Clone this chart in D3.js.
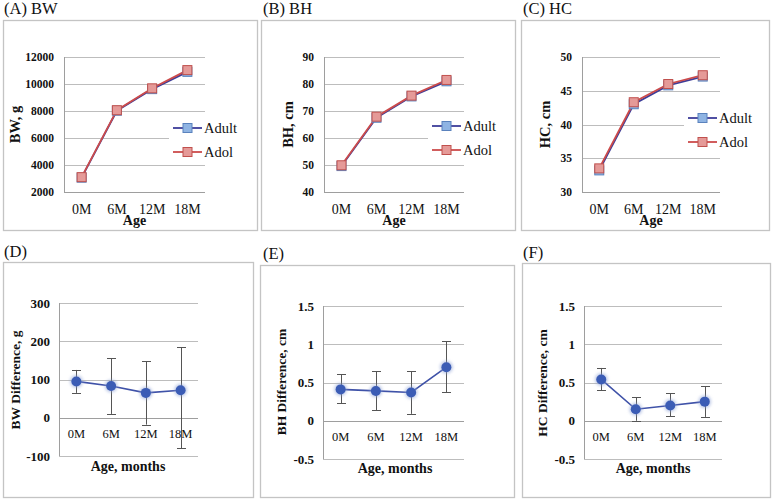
<!DOCTYPE html>
<html>
<head>
<meta charset="utf-8">
<script src="https://cdn.jsdelivr.net/npm/d3@7"></script>
<style>
  html, body { margin: 0; padding: 0; background: #fff; }
  svg { display: block; }
</style>
</head>
<body>
<svg id="chart" width="772" height="503"></svg>
<script>
// ---------------- DATA ----------------
const ages = ["0M", "6M", "12M", "18M"];
const seriesNames = ["Adult", "Adol"];

const bwAdult = [3060, 8020, 9620, 10900];
const bwAdol  = [3100, 8060, 9680, 11030];
const bhAdult = [49.6, 67.5, 75.4, 81.0];
const bhAdol  = [49.9, 67.9, 75.7, 81.5];
const hcAdult = [33.2, 43.0, 45.8, 47.1];
const hcAdol  = [33.5, 43.3, 46.0, 47.3];

const bwTicks = [2000, 4000, 6000, 8000, 10000, 12000];
const bhTicks = [40, 50, 60, 70, 80, 90];
const hcTicks = [30, 35, 40, 45, 50];

const bwDiff   = [95, 83, 65, 72];
const bwDiffLo = [65, 10, -18, -80];
const bwDiffHi = [125, 156, 148, 185];
const bhDiff   = [0.41, 0.39, 0.37, 0.70];
const bhDiffLo = [0.23, 0.14, 0.09, 0.37];
const bhDiffHi = [0.61, 0.65, 0.65, 1.04];
const hcDiff   = [0.54, 0.15, 0.20, 0.25];
const hcDiffLo = [0.40, 0.00, 0.06, 0.05];
const hcDiffHi = [0.69, 0.31, 0.36, 0.45];

const bwDiffTicks = [-100, 0, 100, 200, 300];
const cmDiffTicks = [-0.5, 0, 0.5, 1, 1.5];

const panelTitles = ["(A) BW", "(B) BH", "(C) HC", "(D)", "(E)", "(F)"];
const topYTitles = ["BW, g", "BH, cm", "HC, cm"];
const bottomYTitles = ["BW Difference, g", "BH Difference, cm", "HC Difference, cm"];
const topXTitle = "Age";
const bottomXTitle = "Age, months";

// ---------------- STYLE ----------------
const FONT = '"Liberation Serif", "Times New Roman", Tinos, serif';
const C = {
  frame: "#c4c4c4",
  grid: "#bdbdbd",
  axis: "#9e9e9e",
  text: "#111",
  adultLine: "#3d3d99",
  adultFill: "#8fb4e3",
  adultStroke: "#5a82bd",
  adolLine: "#cc4b4b",
  adolFill: "#e59a98",
  adolStroke: "#c0504d",
  diffLine: "#3f52a8",
  diffDot: "#3b5cb5",
  err: "#555"
};

const svg = d3.select("#chart");
const defs = svg.append("defs");
defs.append("filter").attr("id", "glow").attr("x", "-50%").attr("y", "-50%").attr("width", "200%").attr("height", "200%")
  .append("feGaussianBlur").attr("stdDeviation", 1.5);

function frame(x0, y0, x1, y1) {
  svg.append("rect").attr("x", x0 + 0.5).attr("y", y0 + 0.5)
    .attr("width", x1 - x0).attr("height", y1 - y0)
    .attr("fill", "none").attr("stroke", C.frame).attr("stroke-width", 1.3);
}
function title(txt, x, y) {
  svg.append("text").attr("x", x).attr("y", y).attr("font-size", 16.5)
    .attr("fill", C.text).text(txt);
}

// ---------------- TOP ROW ----------------
function topPanel(p) {
  const g = svg.append("g");
  const x = d3.scaleBand().domain(ages).range([p.x0, p.x1]);
  const y = d3.scaleLinear().domain([p.ticks[0], p.ticks[p.ticks.length - 1]]).range([p.yb, p.yt]);

  g.selectAll(".grid").data(p.ticks.slice(1)).enter().append("line")
    .attr("x1", p.x0).attr("x2", p.x1)
    .attr("y1", d => Math.round(y(d)) + 0.5).attr("y2", d => Math.round(y(d)) + 0.5)
    .attr("stroke", C.grid).attr("stroke-width", 1);
  g.append("line").attr("x1", p.x0 + 0.5).attr("x2", p.x0 + 0.5).attr("y1", p.yt).attr("y2", p.yb)
    .attr("stroke", C.axis);
  g.append("line").attr("x1", p.x0).attr("x2", p.x1).attr("y1", p.yb + 0.5).attr("y2", p.yb + 0.5)
    .attr("stroke", C.axis);

  const ya = g.append("g").attr("transform", `translate(${p.x0},0)`)
    .call(d3.axisLeft(y).tickValues(p.ticks).tickSize(0).tickPadding(10).tickFormat(d => String(d)));
  ya.select(".domain").remove();
  ya.selectAll("text").attr("font-weight", "bold")
    .attr("font-size", 11.5).attr("fill", C.text);

  const xa = g.append("g").attr("transform", `translate(0,${p.yb})`)
    .call(d3.axisBottom(x).tickSize(0).tickPadding(12));
  xa.select(".domain").remove();
  xa.selectAll("text").attr("font-size", 14).attr("fill", C.text);

  g.append("text").attr("x", (p.x0 + p.x1) / 2).attr("y", 225).attr("text-anchor", "middle")
    .attr("font-weight", "bold").attr("font-size", 14).attr("fill", C.text).text(topXTitle);
  g.append("text").attr("transform", `translate(${p.ytx},${(p.yt + p.yb) / 2}) rotate(-90)`)
    .attr("text-anchor", "middle").attr("font-weight", "bold").attr("font-size", 14.5)
    .attr("fill", C.text).text(p.ytitle);

  const series = [
    { name: seriesNames[0], vals: p.adult, line: C.adultLine, fill: C.adultFill, stroke: C.adultStroke },
    { name: seriesNames[1], vals: p.adol, line: C.adolLine, fill: C.adolFill, stroke: C.adolStroke }
  ];
  const cx = d => x(d) + x.bandwidth() / 2;
  const line = d3.line().x((d, i) => cx(ages[i])).y(d => y(d));

  g.append("rect").attr("x", p.lx - 4).attr("y", p.ly - 11).attr("width", p.x1 - p.lx + 45)
    .attr("height", 48).attr("fill", "#fff");

  series.forEach(s => {
    g.append("path").datum(s.vals).attr("d", line).attr("fill", "none")
      .attr("stroke", s.line).attr("stroke-width", 1.8);
  });
  series.forEach(s => {
    g.selectAll(null).data(s.vals).enter().append("rect")
      .attr("x", (d, i) => cx(ages[i]) - 4.5).attr("y", d => y(d) - 4.5)
      .attr("width", 9).attr("height", 9)
      .attr("fill", s.fill).attr("stroke", s.stroke).attr("stroke-width", 1);
  });

  series.forEach((s, i) => {
    const ly = p.ly + i * 24;
    g.append("line").attr("x1", p.lx).attr("x2", p.lx + 29).attr("y1", ly).attr("y2", ly)
      .attr("stroke", s.line).attr("stroke-width", 1.8);
    g.append("rect").attr("x", p.lx + 10).attr("y", ly - 4.5).attr("width", 9).attr("height", 9)
      .attr("fill", s.fill).attr("stroke", s.stroke);
    g.append("text").attr("x", p.lx + 31).attr("y", ly + 4.5).attr("font-size", 14.5)
      .attr("fill", C.text).text(s.name);
  });
}

// ---------------- BOTTOM ROW ----------------
function bottomPanel(p) {
  const g = svg.append("g");
  const x = d3.scaleBand().domain(ages).range([p.x0, p.x1]);
  const y = d3.scaleLinear().domain([p.ticks[0], p.ticks[p.ticks.length - 1]]).range([p.yb, p.yt]);

  g.selectAll(".grid").data(p.ticks).enter().append("line")
    .attr("x1", p.x0).attr("x2", p.x1)
    .attr("y1", d => Math.round(y(d)) + 0.5).attr("y2", d => Math.round(y(d)) + 0.5)
    .attr("stroke", d => d === 0 ? C.axis : C.grid).attr("stroke-width", 1);
  g.append("line").attr("x1", p.x0 + 0.5).attr("x2", p.x0 + 0.5).attr("y1", p.yt).attr("y2", p.yb)
    .attr("stroke", C.axis);

  const ya = g.append("g").attr("transform", `translate(${p.x0},0)`)
    .call(d3.axisLeft(y).tickValues(p.ticks).tickSize(0).tickPadding(9).tickFormat(d => String(d)));
  ya.select(".domain").remove();
  ya.selectAll("text").attr("font-weight", "bold")
    .attr("font-size", 13).attr("fill", C.text);

  const xa = g.append("g").attr("transform", `translate(0,${y(0)})`)
    .call(d3.axisBottom(x).tickSize(0).tickPadding(11.5));
  xa.select(".domain").remove();
  xa.selectAll("text").attr("font-size", 12.5).attr("fill", C.text);

  g.append("text").attr("x", p.xtx).attr("y", p.xty).attr("text-anchor", "middle")
    .attr("font-weight", "bold").attr("font-size", 14).attr("fill", C.text).text(bottomXTitle);
  g.append("text").attr("transform", `translate(${p.ytx},${p.yty}) rotate(-90)`)
    .attr("text-anchor", "middle").attr("font-weight", "bold").attr("font-size", 13.5)
    .attr("fill", C.text).text(p.ytitle);

  const cx = i => x(ages[i]) + x.bandwidth() / 2;

  p.vals.forEach((v, i) => {
    const X = Math.round(cx(i)) + 0.5;
    g.append("line").attr("x1", X).attr("x2", X).attr("y1", y(p.hi[i])).attr("y2", y(p.lo[i]))
      .attr("stroke", C.err).attr("stroke-width", 1);
    [p.hi[i], p.lo[i]].forEach(e => {
      g.append("line").attr("x1", X - 4.5).attr("x2", X + 4.5)
        .attr("y1", Math.round(y(e)) + 0.5).attr("y2", Math.round(y(e)) + 0.5)
        .attr("stroke", C.err).attr("stroke-width", 1);
    });
  });

  const line = d3.line().x((d, i) => cx(i)).y(d => y(d));
  g.append("path").datum(p.vals).attr("d", line).attr("fill", "none")
    .attr("stroke", C.diffLine).attr("stroke-width", 1.6);
  g.selectAll(null).data(p.vals).enter().append("circle")
    .attr("cx", (d, i) => cx(i)).attr("cy", d => y(d)).attr("r", 6.5)
    .attr("fill", "#8fa3d6").attr("opacity", 0.55).attr("filter", "url(#glow)");
  g.selectAll(null).data(p.vals).enter().append("circle")
    .attr("cx", (d, i) => cx(i)).attr("cy", d => y(d)).attr("r", 5)
    .attr("fill", C.diffDot);
}

frame(3, 20, 257, 230);
frame(261, 20, 515, 230);
frame(521, 20, 769, 230);
frame(3, 262, 253, 497);
frame(260, 265, 514, 497);
frame(522, 263, 770, 497);

title(panelTitles[0], 4, 14);
title(panelTitles[1], 263, 14);
title(panelTitles[2], 523, 14);
title(panelTitles[3], 4, 257);
title(panelTitles[4], 263, 259);
title(panelTitles[5], 523, 258);

topPanel({ x0: 64, x1: 205, yt: 57, yb: 192, ticks: bwTicks, adult: bwAdult, adol: bwAdol,
  ytitle: topYTitles[0], ytx: 20, lx: 173, ly: 128 });
topPanel({ x0: 324, x1: 464, yt: 57, yb: 192, ticks: bhTicks, adult: bhAdult, adol: bhAdol,
  ytitle: topYTitles[1], ytx: 293, lx: 432, ly: 126 });
topPanel({ x0: 582, x1: 720, yt: 57, yb: 192, ticks: hcTicks, adult: hcAdult, adol: hcAdol,
  ytitle: topYTitles[2], ytx: 550, lx: 688, ly: 118 });

bottomPanel({ x0: 59, x1: 198, yt: 303, yb: 456, ticks: bwDiffTicks, vals: bwDiff, lo: bwDiffLo, hi: bwDiffHi,
  ytitle: bottomYTitles[0], ytx: 20, yty: 380, xtx: 128, xty: 471 });
bottomPanel({ x0: 323, x1: 464, yt: 306, yb: 459, ticks: cmDiffTicks, vals: bhDiff, lo: bhDiffLo, hi: bhDiffHi,
  ytitle: bottomYTitles[1], ytx: 286, yty: 382, xtx: 395, xty: 473 });
bottomPanel({ x0: 584, x1: 722, yt: 306, yb: 459, ticks: cmDiffTicks, vals: hcDiff, lo: hcDiffLo, hi: hcDiffHi,
  ytitle: bottomYTitles[2], ytx: 547, yty: 383, xtx: 653, xty: 473 });

// apply the serif font to every text (inline style beats d3-axis attributes)
svg.selectAll("text").style("font-family", FONT);
</script>
</body>
</html>
